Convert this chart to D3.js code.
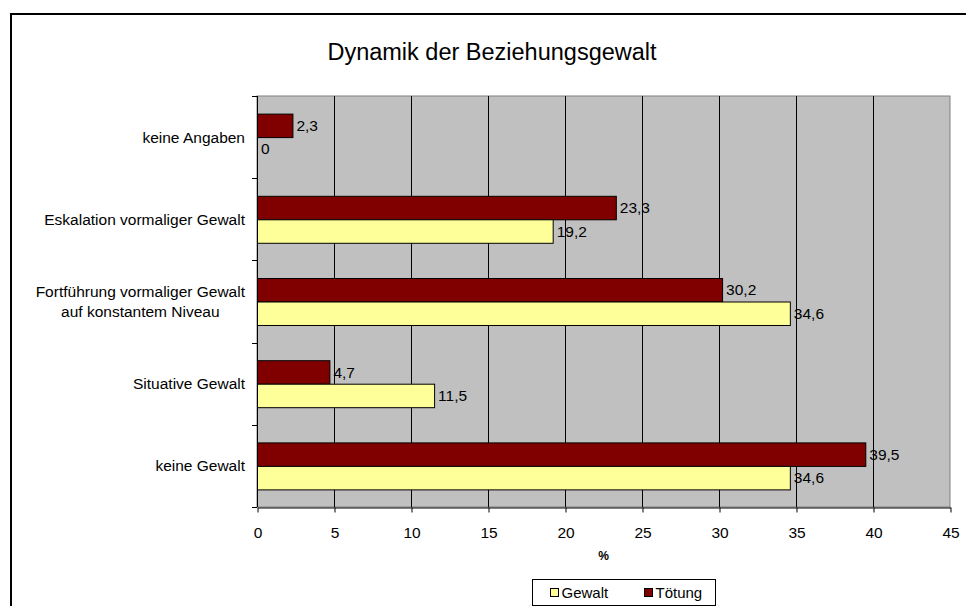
<!DOCTYPE html>
<html>
<head>
<meta charset="utf-8">
<script src="https://cdn.jsdelivr.net/npm/d3@7"></script>
<style>
  body { margin: 0; background: #fff; }
  text { font-family: "Liberation Sans", Arial, sans-serif; fill: #000; }
</style>
</head>
<body>
<svg id="chart" width="966" height="606"></svg>
<script>
// categories top to bottom, lines split with "|"
var categories = ["keine Angaben", "Eskalation vormaliger Gewalt", "Fortführung vormaliger Gewalt|auf konstantem Niveau", "Situative Gewalt", "keine Gewalt"];
var seriesNames = ["Tötung", "Gewalt"];
var toetung = [2.3, 23.3, 30.2, 4.7, 39.5];
var gewalt = [0, 19.2, 34.6, 11.5, 34.6];
var xTicks = [0, 5, 10, 15, 20, 25, 30, 35, 40, 45];
var colors = {"Gewalt": "#ffff99", "Tötung": "#800000"};

var svg = d3.select("#chart");
var MARGINS = {top: 96, right: 16, bottom: 99, left: 257};
var WIDTH = 966, HEIGHT = 606;

// outer frame (runs off the right and bottom of the picture)
svg.append("rect")
  .attr("x", 11).attr("y", 14)
  .attr("width", 980).attr("height", 620)
  .attr("fill", "none").attr("stroke", "#000").attr("stroke-width", 2);

svg.append("text")
  .attr("x", 492).attr("y", 60)
  .attr("text-anchor", "middle")
  .style("font-size", "23.5px")
  .text("Dynamik der Beziehungsgewalt");

var x = d3.scaleLinear().domain([0, 45]).range([MARGINS.left, WIDTH - MARGINS.right]);
var y0 = d3.scaleBand().domain(categories).range([MARGINS.top, HEIGHT - MARGINS.bottom]);
var y1 = d3.scaleBand().domain(seriesNames).range([0, y0.bandwidth()]).paddingOuter(0.75);

// plot background
svg.append("rect")
  .attr("x", x(0)).attr("y", MARGINS.top)
  .attr("width", x(45) - x(0)).attr("height", HEIGHT - MARGINS.bottom - MARGINS.top)
  .attr("fill", "#c0c0c0").attr("stroke", "#808080");

// vertical grid
svg.append("g").selectAll("line")
  .data(xTicks.slice(1, -1))
  .enter().append("line")
  .attr("x1", function (d) { return x(d) + 0.5; })
  .attr("x2", function (d) { return x(d) + 0.5; })
  .attr("y1", MARGINS.top).attr("y2", HEIGHT - MARGINS.bottom)
  .attr("stroke", "#000");

var data = categories.map(function (c, i) {
  return {cat: c, values: [{name: "Tötung", v: toetung[i]}, {name: "Gewalt", v: gewalt[i]}]};
});

var groups = svg.append("g").selectAll("g")
  .data(data)
  .enter().append("g")
  .attr("transform", function (d) { return "translate(0," + y0(d.cat) + ")"; });

groups.selectAll("rect")
  .data(function (d) { return d.values.filter(function (s) { return s.v > 0; }); })
  .enter().append("rect")
  .attr("x", x(0) + 0.5)
  .attr("y", function (d) { return y1(d.name) + 0.5; })
  .attr("width", function (d) { return x(d.v) - x(0); })
  .attr("height", y1.bandwidth())
  .attr("fill", function (d) { return colors[d.name]; })
  .attr("stroke", "#000");

groups.selectAll("text")
  .data(function (d) { return d.values; })
  .enter().append("text")
  .attr("x", function (d) { return x(d.v) + 4; })
  .attr("y", function (d) { return y1(d.name) + y1.bandwidth() / 2; })
  .attr("dy", "0.36em")
  .style("font-size", "15.5px")
  .text(function (d) { return String(d.v).replace(".", ","); });

// x axis
var xAxis = d3.axisBottom(x).tickValues(xTicks).tickSize(5).tickSizeOuter(0);
var gx = svg.append("g")
  .attr("transform", "translate(0.5," + (HEIGHT - MARGINS.bottom + 0.5) + ")")
  .call(xAxis);
gx.select(".domain").attr("stroke", "#000");
gx.selectAll("text").style("font-size", "15.5px").attr("y", 25).attr("dy", "0.36em");

svg.append("text")
  .attr("x", (x(0) + x(45)) / 2).attr("y", 560)
  .attr("text-anchor", "middle")
  .style("font-size", "12px").style("font-weight", "bold")
  .text("%");

// y axis: ticks between categories
var boundaries = categories.map(function (c) { return y0(c); }).concat([y0.range()[1]]);
svg.append("line")
  .attr("x1", x(0) + 0.5).attr("x2", x(0) + 0.5)
  .attr("y1", MARGINS.top).attr("y2", HEIGHT - MARGINS.bottom)
  .attr("stroke", "#000");
svg.append("g").selectAll("line")
  .data(boundaries)
  .enter().append("line")
  .attr("x1", x(0) - 5).attr("x2", x(0))
  .attr("y1", function (d) { return Math.round(d) + 0.5; })
  .attr("y2", function (d) { return Math.round(d) + 0.5; })
  .attr("stroke", "#000");

// category labels, multi-line ones centred on their longest line
categories.forEach(function (c) {
  var lines = c.split("|");
  var t = svg.append("text").style("font-size", "15.5px");
  var cy = y0(c) + y0.bandwidth() / 2;
  lines.forEach(function (l, j) {
    t.append("tspan").attr("x", 0)
      .attr("y", cy + (j - (lines.length - 1) / 2) * 20)
      .attr("dy", "0.36em").text(l);
  });
  if (lines.length === 1) {
    t.attr("text-anchor", "end").selectAll("tspan").attr("x", 245);
  } else {
    var w = d3.max(t.selectAll("tspan").nodes(), function (n) { return n.getComputedTextLength(); });
    t.attr("text-anchor", "middle").selectAll("tspan").attr("x", 245 - w / 2);
  }
});

// legend
var legend = svg.append("g").attr("transform", "translate(532.5,579.5)");
legend.append("rect").attr("width", 183).attr("height", 26)
  .attr("fill", "#fff").attr("stroke", "#000");
var legendItems = [{name: "Gewalt", x: 18}, {name: "Tötung", x: 112}];
legendItems.forEach(function (d) {
  legend.append("rect").attr("x", d.x).attr("y", 9).attr("width", 8).attr("height", 8)
    .attr("fill", colors[d.name]).attr("stroke", "#000");
  legend.append("text").attr("x", d.x + 11).attr("y", 13).attr("dy", "0.36em")
    .style("font-size", "15px").text(d.name);
});
</script>
</body>
</html>
